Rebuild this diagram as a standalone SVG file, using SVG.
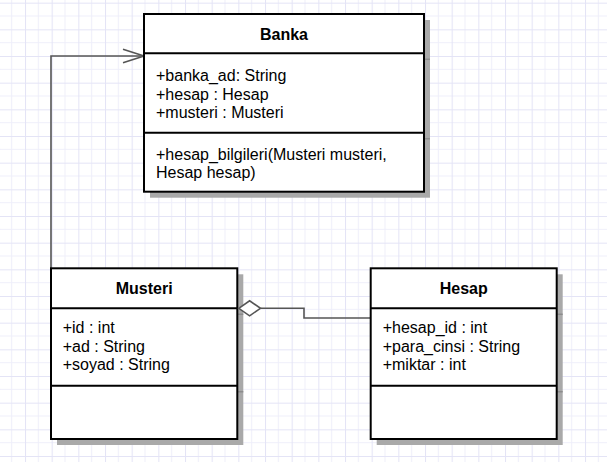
<svg xmlns="http://www.w3.org/2000/svg" width="607" height="462" viewBox="0 0 607 462">
<defs>
<pattern id="grid" patternUnits="userSpaceOnUse" x="-1.67" y="2.67" width="26.667" height="26.667">
<rect width="26.667" height="26.667" fill="#ffffff"/>
<path d="M13.333 0V26.667M0 13.333H26.667" stroke="#efeffa" stroke-width="1" fill="none"/>
<path d="M0.5 0V26.667M0 0.5H26.667" stroke="#e4e4f6" stroke-width="1" fill="none"/>
</pattern>
<marker id="open" markerUnits="userSpaceOnUse" markerWidth="24" markerHeight="18" refX="21" refY="8" orient="auto" overflow="visible">
<path d="M0 1.3L21 8L0 14.7" fill="none" stroke="#555555" stroke-width="1.6"/>
</marker>
</defs>
<style>
.box{fill:#ffffff;stroke:#000000;stroke-width:2}
.div{stroke:#000000;stroke-width:2}
.shadow{fill:#a9a9a9}
.sdiv{stroke:#8c8c8c;stroke-width:1.5}
.title{font-family:"Liberation Sans",Arial,sans-serif;font-size:16px;font-weight:bold;fill:#000;text-anchor:middle}
.txt{font-family:"Liberation Sans",Arial,sans-serif;font-size:16px;fill:#000}
.conn{fill:none;stroke:#555555;stroke-width:1.6}
</style>
<rect x="0" y="0" width="607" height="462" fill="url(#grid)"/>

<g id="connectors">
<path class="conn" d="M51 268V56H144" marker-end="url(#open)"/>
<path class="conn" d="M260.5 308.3H304V318H371"/>
</g>

<g id="Banka">
<rect class="shadow" x="150" y="20" width="280" height="177.7"/>
<line class="sdiv" x1="424" y1="59.3" x2="430" y2="59.3"/>
<line class="sdiv" x1="424" y1="138.7" x2="430" y2="138.7"/>
<rect class="box" x="144" y="14" width="280" height="177.7"/>
<line class="div" x1="144" y1="53.3" x2="424" y2="53.3"/>
<line class="div" x1="144" y1="132.7" x2="424" y2="132.7"/>
<text class="title" x="284" y="40">Banka</text>
<text class="txt" x="156" y="81">+banka_ad: String</text>
<text class="txt" x="156" y="99.5">+hesap : Hesap</text>
<text class="txt" x="156" y="118">+musteri : Musteri</text>
<text class="txt" x="156" y="159.5">+hesap_bilgileri(Musteri musteri,</text>
<text class="txt" x="156" y="177.5">Hesap hesap)</text>
</g>

<g id="Musteri">
<rect class="shadow" x="57" y="274.3" width="186.3" height="170.7"/>
<line class="sdiv" x1="237.3" y1="314.3" x2="243.3" y2="314.3"/>
<line class="sdiv" x1="237.3" y1="391.7" x2="243.3" y2="391.7"/>
<rect class="box" x="51" y="268.3" width="186.3" height="170.7"/>
<line class="div" x1="51" y1="308.3" x2="237.3" y2="308.3"/>
<line class="div" x1="51" y1="385.7" x2="237.3" y2="385.7"/>
<text class="title" x="144.2" y="294">Musteri</text>
<text class="txt" x="62.7" y="333.3">+id : int</text>
<text class="txt" x="62.7" y="352">+ad : String</text>
<text class="txt" x="62.7" y="370.3">+soyad : String</text>
</g>

<g id="Hesap">
<rect class="shadow" x="376.7" y="274.3" width="186" height="170.7"/>
<line class="sdiv" x1="556.7" y1="314.3" x2="562.7" y2="314.3"/>
<line class="sdiv" x1="556.7" y1="391.7" x2="562.7" y2="391.7"/>
<rect class="box" x="370.7" y="268.3" width="186" height="170.7"/>
<line class="div" x1="370.7" y1="308.3" x2="556.7" y2="308.3"/>
<line class="div" x1="370.7" y1="385.7" x2="556.7" y2="385.7"/>
<text class="title" x="463.7" y="294">Hesap</text>
<text class="txt" x="382.7" y="333.3">+hesap_id : int</text>
<text class="txt" x="382.7" y="352">+para_cinsi : String</text>
<text class="txt" x="382.7" y="370.3">+miktar : int</text>
</g>

<g id="aggregation-diamond">
<path d="M238.8 308.3L249.6 300.8L260.5 308.3L249.6 315.8Z" fill="#ffffff" stroke="#555555" stroke-width="1.6"/>
</g>
</svg>
